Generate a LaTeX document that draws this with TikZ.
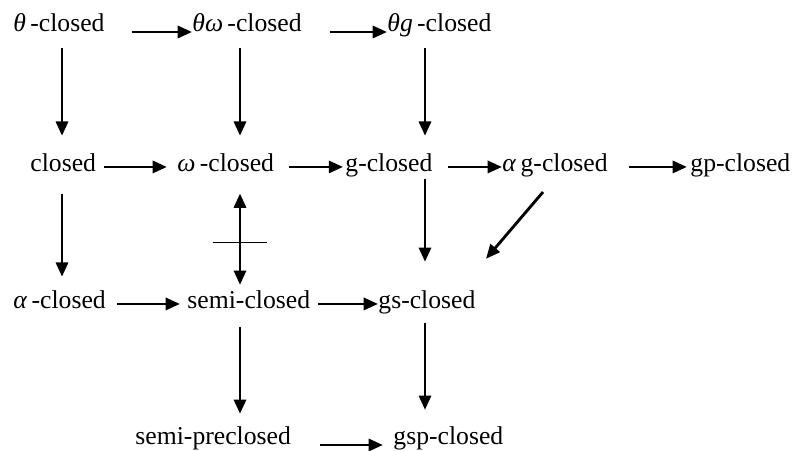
\documentclass[tikz,border=0pt]{standalone}
\usepackage{fontspec}
\setmainfont{Liberation Serif}
\newfontfamily\tnr{Liberation Serif}
\usetikzlibrary{arrows.meta,positioning}
\tikzset{
    x=0.016cm,y=-0.016cm,
    >={Triangle[length=6.5pt,width=5.5pt]},
    el/.style = {inner sep=0pt, anchor=base west}
}
\begin{document}
\begin{tikzpicture}[
lbl/.style={el,text height=9pt,text depth=3pt,font=\tnr\fontsize{11.7}{14}\selectfont},
arr/.style={->, line width=1.3pt},
bar/.style={line width=0.6pt}]
\useasboundingbox (0,0) rectangle (797,451);
\node [lbl] (T1) at (13,32) {\textit{θ}\,-closed};
\node [lbl] (T2) at (192,32) {\textit{θω}\,-closed};
\node [lbl] (T3) at (387,32) {\textit{θg}\,-closed};
\node [lbl] (C1) at (30,172) {closed};
\node [lbl] (C2) at (177,172) {\textit{ω}\,-closed};
\node [lbl] (C3) at (345,172) {g-closed};
\node [lbl] (C4) at (502,172) {\textit{α}\,g-closed};
\node [lbl] (C5) at (690,172) {gp-closed};
\node [lbl] (R1) at (13,309) {\textit{α}\,-closed};
\node [lbl] (R2) at (187,309) {semi-closed};
\node [lbl] (R3) at (378,309) {gs-closed};
\node [lbl] (B1) at (135,445) {semi-preclosed};
\node [lbl] (B2) at (393,445) {gsp-closed};
\coordinate (k1) at (62,0);
\coordinate (k2) at (240,0);
\coordinate (k3) at (425,0);
% horizontal
\draw [arr, shorten <=12.3pt] (T1.base east) -- (T2.base west);
\draw [arr, shorten <=12.7pt] (T2.base east) -- (T3.base west);
\draw [arr, shorten <=3.6pt, shorten >=4.6pt] (C1.mid east) -- (C2.mid west);
\draw [arr, shorten <=6.8pt, shorten >=0.9pt] (C2.mid east) -- (C3.mid west);
\draw [arr, shorten <=6.8pt] (C3.mid east) -- (C4.mid west);
\draw [arr, shorten <=9.6pt, shorten >=1.4pt] (C4.mid east) -- (C5.mid west);
\draw [arr, shorten <=5pt, shorten >=3.2pt] (R1.mid east) -- (R2.mid west);
\draw [arr, shorten <=3.6pt] (R2.mid east) -- (R3.mid west);
\draw [arr, shorten <=13.2pt, shorten >=4.6pt] (B1.base east) -- (B2.base west);
% vertical
\foreach \a/\b/\k in {T1/C1/k1, T2/C2/k2, T3/C3/k3}
\draw [arr, shorten <=4.3pt, shorten >=7.3pt] (\a.south -| \k) -- (\b.north -| \k);
\draw [arr, shorten <=6.6pt, shorten >=5.5pt] (C1.south -| k1) -- (R1.north -| k1);
\draw [arr, <->, shorten <=6.6pt, shorten >=1.8pt] (C2.south -| k2) -- coordinate[pos=.58] (nx) (R2.north -| k2);
\draw [bar] ([xshift=-12.5pt]nx) -- ([xshift=12.5pt]nx);
\draw [arr, shorten >=12.3pt] (C3.south -| k3) -- (R3.north -| k3);
\draw [arr] ([shift={(41,13)}]C4.south west) -- ([shift={(108,-30)}]R3.north west);
\draw [arr, shorten <=5.2pt, shorten >=5pt] (R2.south -| k2) -- (B1.north -| k2);
\draw [arr, shorten <=3.4pt, shorten >=6.8pt] (R3.south -| k3) -- (B2.north -| k3);
\end{tikzpicture}
\end{document}
